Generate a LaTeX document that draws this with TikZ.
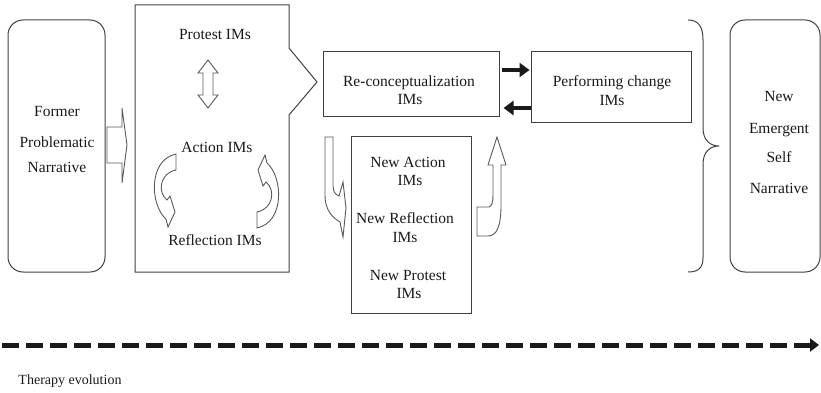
\documentclass[tikz,border=0pt]{standalone}
\usepackage{fontspec}
\setmainfont{Liberation Serif}
\usetikzlibrary{arrows.meta}
\begin{document}
\begin{tikzpicture}[x=1pt,y=-1pt,
  frame/.style={draw=black!75, line width=1pt, inner sep=0pt},
  roundframe/.style={frame, rounded corners=15pt},
  blockarrow/.style={draw=black!65, line width=0.9pt, line join=miter},
  txt/.style={font=\fontsize{15.5}{18}\selectfont, inner sep=0pt, anchor=base, text=black!90},
  smalltxt/.style={txt, font=\fontsize{14}{16}\selectfont},
  linkarrow/.style={draw=black!90, line width=4pt, -{Triangle[length=10pt,width=14pt]}},
  timeline/.style={draw=black!90, line width=5pt, dash pattern=on 17pt off 7pt,
    -{Triangle[length=9pt,width=13pt]}},
]
\useasboundingbox (0,0) rectangle (821,393);

% ---------- starting narrative ----------
\node[roundframe, minimum width=97pt, minimum height=252pt] (former) at (56.5,146) {};
\node[txt] (former1) at (57,117) {Former};
\node[txt] (former2) at (57,147) {Problematic};
\node[txt] (former3) at (57,172) {Narrative};

% block arrow into the innovative moments box
\draw[blockarrow] (107,127) -- (122,127) -- (122,108) -- (127,145) -- (122,183)
  -- (122,163) -- (107,163) -- cycle;

% ---------- box of first innovative moments (with notch) ----------
\draw[frame] (135,5) -- (289,5) -- (289,48) -- (317,82) -- (289,115) -- (289,272)
  -- (135,272) -- cycle;
\node[txt] (protest) at (215,40) {Protest IMs};
\node[txt] (action) at (217,152) {Action IMs};
\node[txt] (reflect) at (215,245) {Reflection IMs};

% double block arrow between protest and action
\draw[blockarrow] (208,60) -- (218,73) -- (213,73) -- (213,95) -- (218,95) -- (208,108)
  -- (198,95) -- (203,95) -- (203,73) -- (198,73) -- cycle;

% curved block arrows between action and reflection
\def\curvedarrow{(176,154) -- (176,170) .. controls (160,173) and (157,192) .. (167,200)
  -- (170,196) -- (175,212) -- (168,227) -- (166,219)
  .. controls (150,205) and (148,160) .. (176,154) -- cycle}
\draw[blockarrow] \curvedarrow;
\begin{scope}[shift={(433,382)}, rotate=180]
  \draw[blockarrow] \curvedarrow;
\end{scope}

% ---------- re-conceptualization and performing change ----------
\node[frame, minimum width=176pt, minimum height=65pt] (rc) at (411,84.5) {};
\node[txt] (rc1) at (409,87) {Re-conceptualization};
\node[txt] (rc2) at (410,105) {IMs};

\node[frame, minimum width=160pt, minimum height=71pt] (pc) at (611,87.5) {};
\node[txt] (pc1) at (612,87) {Performing change};
\node[txt] (pc2) at (612,106) {IMs};

\coordinate (ya) at (0,70);
\coordinate (yb) at (0,108);
\draw[linkarrow, shorten <=2pt, shorten >=1pt] (rc.east |- ya) -- (pc.west |- ya);
\draw[linkarrow, shorten >=4pt] (pc.west |- yb) -- (rc.east |- yb);

% ---------- new innovative moments ----------
\node[frame, minimum width=120pt, minimum height=177pt] (nb) at (411,224.5) {};
\node[txt] (nb1) at (408,167) {New Action};
\node[txt] (nb2) at (410,185) {IMs};
\node[txt] (nb3) at (405,223) {New Reflection};
\node[txt] (nb4) at (405,242) {IMs};
\node[txt] (nb5) at (408,280) {New Protest};
\node[txt] (nb6) at (409,298) {IMs};

% curved block arrow down into the new box
\draw[blockarrow] (325,137) -- (333,137) -- (333,186) .. controls (333,192) and (336,195) .. (339,196)
  -- (343,182) -- (346,208) -- (343,237) -- (340,222)
  .. controls (328,215) and (325,205) .. (325,195) -- cycle;

% curved block arrow back up to re-conceptualization
\draw[blockarrow] (477,207) -- (489,207) .. controls (492,206) and (493,202) .. (493,195)
  -- (493,165) -- (488,165) -- (497,137) -- (506,165) -- (501,165) -- (501,205)
  .. controls (501,228) and (496,236) .. (488,236) -- (477,236) -- cycle;

% ---------- brace and emergent narrative ----------
\draw[draw=black!75, line width=1pt] (688,20) .. controls (698,20) and (703,26) .. (703,40)
  -- (703,128) .. controls (703,140) and (710,146) .. (719,146)
  .. controls (710,146) and (703,152) .. (703,164)
  -- (703,258) .. controls (703,268) and (698,272) .. (688,272);

\node[roundframe, minimum width=90pt, minimum height=252pt] (emergent) at (775,146) {};
\node[txt] (em1) at (779,102) {New};
\node[txt] (em2) at (779,133) {Emergent};
\node[txt] (em3) at (779,162) {Self};
\node[txt] (em4) at (779,193) {Narrative};

% ---------- therapy time line ----------
\coordinate (t0) at (2,345);
\coordinate (t1) at (819,345);
\draw[timeline] (t0) -- (t1);
\node[smalltxt] (therapy) at (70,384) {Therapy evolution};
\end{tikzpicture}
\end{document}
